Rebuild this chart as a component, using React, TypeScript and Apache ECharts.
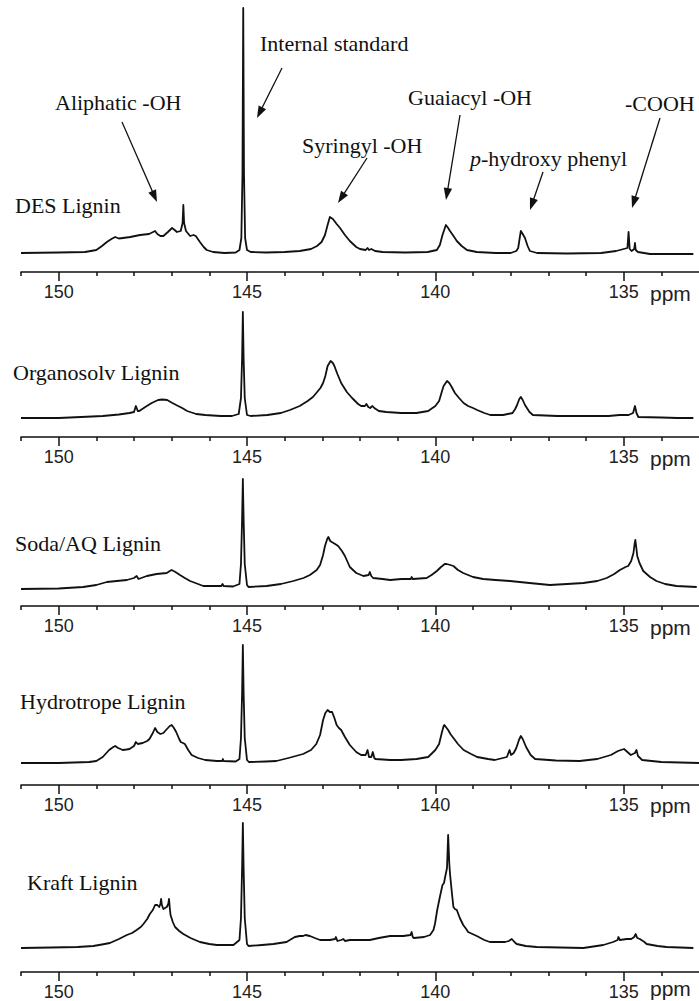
import React, { useEffect, useRef } from "react";
import * as echarts from "echarts";

// ---------- axis values ----------
const PPM_MIN = 133;
const PPM_MAX = 151;
const majorTicks = [150, 145, 140, 135];
const minorTicks = [151, 149, 148, 147, 146, 144, 143, 142, 141, 139, 138, 137, 136, 134];
const unitLabel = "ppm";

// ---------- sample names ----------
const sampleNames = ["DES Lignin", "Organosolv Lignin", "Soda/AQ Lignin", "Hydrotrope Lignin", "Kraft Lignin"];

// ---------- spectra: [ppm, relative intensity] ----------
const desSpectrum = [
  [151.0, 0], [150.0, 0.5], [149.3, 1], [149.0, 3], [148.85, 7], [148.72, 11], [148.6, 14], [148.5, 16], [148.4, 14.5],
  [148.29, 15], [148.1, 16], [147.84, 18], [147.6, 19], [147.44, 22], [147.38, 19], [147.3, 17], [147.22, 17], [147.1, 21],
  [146.99, 25], [146.92, 23], [146.86, 21], [146.76, 22], [146.71, 30], [146.69, 48], [146.67, 30], [146.62, 22], [146.51, 17],
  [146.42, 18], [146.36, 17], [146.25, 11], [146.15, 6], [146.07, 3], [145.9, 1], [145.6, 0], [145.3, 0.5], [145.2, 3],
  [145.15, 15], [145.12, 80], [145.1, 245], [145.08, 80], [145.05, 15], [145.0, 3], [144.9, 1], [144.5, 0.5], [144.0, 1],
  [143.6, 2], [143.3, 4], [143.14, 7], [143.02, 11], [142.93, 18], [142.86, 28], [142.8, 36], [142.72, 34], [142.62, 29],
  [142.53, 25], [142.4, 18], [142.27, 12], [142.1, 6], [142.0, 4], [141.85, 3], [141.8, 5], [141.76, 3], [141.7, 4],
  [141.6, 2], [141.4, 1], [140.8, 0.5], [140.2, 1], [139.96, 3], [139.88, 8], [139.81, 18], [139.72, 28], [139.66, 25],
  [139.61, 22], [139.5, 16], [139.43, 12], [139.3, 7], [139.16, 3], [138.9, 1], [138.4, 0], [138.0, 0], [137.85, 2],
  [137.8, 5], [137.76, 15], [137.73, 22], [137.68, 19], [137.62, 15], [137.55, 7], [137.49, 2], [137.3, 0], [136.5, -0.5],
  [135.6, 0], [135.2, 2], [135.0, 4], [134.9, 5], [134.87, 21], [134.84, 4], [134.79, 2], [134.72, 4], [134.7, 10],
  [134.68, 3], [134.62, 1], [134.3, -1], [133.6, -1], [133.15, -1],
];

const organosolvSpectrum = [
  [151.0, 0], [150.0, 0], [149.4, 1], [148.83, 2], [148.4, 3.5], [148.12, 5], [148.0, 6], [147.95, 12], [147.9, 7],
  [147.86, 7], [147.7, 11], [147.53, 15], [147.36, 18], [147.25, 18.5], [147.12, 18], [146.98, 15], [146.88, 13],
  [146.72, 10], [146.59, 7], [146.35, 4], [146.11, 3], [145.7, 2], [145.4, 2], [145.22, 4], [145.16, 20], [145.13, 60],
  [145.11, 106], [145.09, 60], [145.06, 20], [145.0, 3], [144.9, 2], [144.46, 3], [144.1, 5], [143.86, 8], [143.6, 12],
  [143.39, 17], [143.25, 21], [143.16, 25], [143.05, 30], [142.98, 35], [142.92, 42], [142.86, 52], [142.78, 57],
  [142.72, 55], [142.68, 52], [142.6, 44], [142.5, 35], [142.35, 26], [142.21, 20], [142.05, 14], [141.97, 12],
  [141.87, 12], [141.83, 14], [141.78, 11], [141.73, 10], [141.67, 12], [141.62, 10], [141.5, 7], [141.3, 6], [140.91, 5],
  [140.5, 5], [140.19, 7], [140.0, 12], [139.9, 17], [139.83, 26], [139.78, 32], [139.69, 37], [139.63, 35], [139.58, 32],
  [139.48, 25], [139.37, 20], [139.25, 15], [139.13, 12], [139.0, 10], [138.89, 8], [138.7, 5], [138.54, 3], [138.2, 3],
  [137.95, 5], [137.88, 9], [137.83, 13], [137.77, 19], [137.73, 21], [137.68, 18], [137.62, 13], [137.5, 6], [137.41, 3],
  [136.76, 2], [136.0, 2], [135.4, 2], [135.11, 3], [134.87, 3], [134.75, 5], [134.7, 12], [134.66, 5], [134.61, 1],
  [134.0, 0.5], [133.57, 0], [133.15, 0],
];

const sodaSpectrum = [
  [151.0, 0], [150.0, 0.5], [149.35, 2], [149.0, 4], [148.72, 7], [148.46, 8], [148.19, 9], [148.0, 11], [147.93, 13],
  [147.88, 10], [147.66, 13], [147.4, 15], [147.13, 16], [147.05, 18], [147.0, 19], [146.9, 17], [146.78, 14],
  [146.65, 11], [146.51, 8], [146.3, 5], [146.16, 3], [145.9, 3], [145.68, 3], [145.65, 5], [145.62, 3], [145.37, 2.5],
  [145.2, 5], [145.16, 25], [145.13, 70], [145.11, 110], [145.09, 70], [145.06, 25], [145.0, 4], [144.96, 2], [144.48, 3],
  [144.1, 5], [143.77, 8], [143.5, 11], [143.33, 14], [143.15, 19], [143.06, 24], [142.98, 34], [142.93, 43], [142.87, 50],
  [142.84, 52], [142.79, 48], [142.75, 47], [142.66, 45], [142.58, 43], [142.48, 38], [142.4, 33], [142.27, 22],
  [142.1, 16], [141.91, 13], [141.77, 14], [141.74, 17], [141.7, 13], [141.65, 11], [141.4, 10], [141.2, 9], [140.9, 10],
  [140.65, 10], [140.63, 12], [140.6, 10], [140.23, 11], [140.1, 14], [139.96, 18], [139.85, 22], [139.75, 25],
  [139.7, 25], [139.6, 24], [139.52, 23], [139.4, 19], [139.26, 16], [139.0, 12], [138.73, 10], [138.4, 9], [138.02, 8],
  [137.5, 6], [136.96, 4], [136.5, 5], [136.07, 6], [135.7, 8], [135.45, 11], [135.25, 15], [135.1, 19], [134.95, 22],
  [134.88, 23], [134.8, 28], [134.74, 36], [134.71, 45], [134.69, 49], [134.66, 40], [134.64, 33], [134.58, 26],
  [134.48, 18], [134.3, 12], [134.13, 8], [133.9, 5], [133.6, 3], [133.06, 2],
];

const hydrotropeSpectrum = [
  [151.0, 0], [150.0, 0], [149.19, 1], [149.0, 2], [148.83, 6], [148.66, 13], [148.55, 16], [148.5, 17], [148.42, 15],
  [148.3, 13], [148.2, 13.5], [148.12, 14], [148.0, 17], [147.95, 21], [147.9, 19], [147.77, 20], [147.65, 22],
  [147.59, 24], [147.5, 30], [147.44, 35], [147.38, 31], [147.3, 29], [147.22, 30], [147.15, 33], [147.05, 37],
  [147.0, 38], [146.94, 35], [146.88, 31], [146.8, 24], [146.76, 21], [146.7, 20], [146.65, 19], [146.56, 13],
  [146.47, 8], [146.3, 5], [146.11, 3], [145.8, 2], [145.66, 2], [145.64, 4], [145.62, 2], [145.3, 1.5], [145.2, 4],
  [145.16, 25], [145.13, 70], [145.11, 118], [145.09, 70], [145.06, 25], [145.0, 3], [144.95, 1], [144.5, 1.5],
  [144.22, 2], [143.9, 5], [143.51, 9], [143.3, 13], [143.16, 19], [143.06, 28], [142.98, 43], [142.92, 50], [142.86, 53],
  [142.8, 51], [142.74, 51], [142.68, 45], [142.62, 38], [142.56, 35], [142.5, 33], [142.4, 26], [142.27, 18],
  [142.1, 11], [141.97, 8], [141.85, 8], [141.8, 13], [141.76, 6], [141.7, 6], [141.66, 11], [141.62, 5], [141.59, 4],
  [141.2, 3], [140.91, 3], [140.5, 4], [140.19, 6], [140.0, 13], [139.9, 19], [139.83, 30], [139.78, 37], [139.76, 38],
  [139.7, 35], [139.66, 33], [139.6, 29], [139.54, 26], [139.4, 19], [139.25, 13], [139.05, 9], [138.89, 6], [138.6, 4],
  [138.42, 3], [138.1, 6], [138.03, 13], [137.99, 8], [137.92, 10], [137.85, 15], [137.78, 23], [137.73, 27],
  [137.68, 24], [137.59, 16], [137.47, 8], [137.35, 4], [136.8, 2.5], [136.17, 2], [135.7, 4], [135.34, 8], [135.15, 12],
  [134.99, 14], [134.9, 11], [134.81, 8], [134.7, 10], [134.66, 13], [134.62, 7], [134.51, 3], [134.0, 1], [133.0, 0],
];

const kraftSpectrum = [
  [151.0, 0], [150.2, 0.5], [149.5, 1], [149.08, 2], [148.85, 3.5], [148.64, 5], [148.4, 9], [148.19, 13], [148.05, 15],
  [147.93, 18], [147.82, 21], [147.75, 24], [147.65, 29], [147.58, 34], [147.5, 38], [147.44, 43], [147.38, 43],
  [147.33, 41], [147.3, 44], [147.28, 49], [147.26, 43], [147.22, 39], [147.13, 41], [147.09, 44], [147.07, 49],
  [147.05, 40], [147.03, 33], [146.97, 26], [146.91, 21], [146.8, 17], [146.69, 14], [146.5, 10], [146.25, 6], [146.0, 4],
  [145.8, 3], [145.36, 3], [145.2, 8], [145.16, 30], [145.13, 80], [145.11, 125], [145.09, 80], [145.06, 30], [145.0, 4],
  [144.96, 2], [144.6, 3], [144.3, 4], [143.95, 6], [143.82, 9], [143.73, 11], [143.6, 12], [143.51, 12], [143.45, 13],
  [143.33, 12], [143.2, 10], [143.06, 8], [142.8, 8], [142.66, 9], [142.64, 11], [142.6, 7], [142.5, 8], [142.44, 9],
  [142.4, 7], [142.27, 8], [142.0, 8], [141.74, 8], [141.5, 10], [141.2, 12], [140.85, 12], [140.66, 13], [140.63, 16],
  [140.6, 11], [140.57, 10], [140.3, 11], [140.14, 13], [140.05, 18], [140.01, 24], [139.95, 38], [139.88, 51],
  [139.81, 63], [139.77, 65], [139.74, 71], [139.69, 80], [139.66, 113], [139.63, 85], [139.61, 74], [139.56, 55],
  [139.52, 41], [139.48, 39], [139.43, 38], [139.35, 30], [139.26, 23], [139.18, 19], [139.13, 16], [138.9, 12],
  [138.7, 8], [138.55, 6], [138.15, 6], [138.05, 7], [137.97, 9], [137.9, 6], [137.84, 4], [137.6, 2], [137.31, 1],
  [136.07, 0], [135.54, 3], [135.28, 6], [135.16, 8], [135.14, 11], [135.1, 8], [134.92, 9], [134.8, 9], [134.72, 11],
  [134.68, 14], [134.64, 10], [134.57, 9], [134.45, 6], [134.39, 4], [134.1, 2], [133.86, 1], [133.15, 0],
];

const spectra = [desSpectrum, organosolvSpectrum, sodaSpectrum, hydrotropeSpectrum, kraftSpectrum];

// ---------- annotation texts ----------
const annotationTexts = ["Internal standard", "Aliphatic -OH", "Syringyl -OH", "Guaiacyl -OH", "{i|p}-hydroxy phenyl", "-COOH"];

// ---------- layout (pixels) ----------
const W = 699;
const H = 1001;
const PLOT_LEFT = 21;
const panelLayout = [
  { axisY: 272, baseY: 253, topY: 0, labelX: 15, labelY: 205, unitY: 293 },
  { axisY: 437, baseY: 418, topY: 300, labelX: 13, labelY: 372, unitY: 458 },
  { axisY: 606, baseY: 589, topY: 470, labelX: 15, labelY: 543, unitY: 627 },
  { axisY: 785, baseY: 763, topY: 635, labelX: 20, labelY: 701, unitY: 805 },
  { axisY: 972, baseY: 948, topY: 815, labelX: 27, labelY: 882, unitY: 988 },
];
const annotationLayout = [
  { tx: 260, ty: 43, x1: 282, y1: 68, x2: 257, y2: 118 },
  { tx: 55, ty: 102, x1: 122, y1: 122, x2: 157, y2: 202 },
  { tx: 302, ty: 145, x1: 367, y1: 158, x2: 338, y2: 203 },
  { tx: 408, ty: 97, x1: 460, y1: 115, x2: 446, y2: 200 },
  { tx: 470, ty: 158, x1: 543, y1: 172, x2: 530, y2: 210 },
  { tx: 625, ty: 103, x1: 660, y1: 118, x2: 632, y2: 208 },
];

const INK = "#111111";
const SERIF = "'Liberation Serif', 'Times New Roman', serif";
const SANS = "'Liberation Sans', Arial, sans-serif";

function arrow(x1: number, y1: number, x2: number, y2: number) {
  const dx = x2 - x1;
  const dy = y2 - y1;
  const len = Math.sqrt(dx * dx + dy * dy);
  const ux = dx / len;
  const uy = dy / len;
  const headL = 12;
  const headW = 4.2;
  const bx = x2 - ux * headL;
  const by = y2 - uy * headL;
  return {
    type: "group",
    children: [
      { type: "line", shape: { x1, y1, x2: bx + ux * 2, y2: by + uy * 2 }, style: { stroke: INK, lineWidth: 1.3 } },
      {
        type: "polygon",
        shape: {
          points: [
            [x2, y2],
            [bx - uy * headW, by + ux * headW],
            [bx + uy * headW, by - ux * headW],
          ],
        },
        style: { fill: INK },
      },
    ],
  };
}

export default function App() {
  const ref = useRef<HTMLDivElement>(null);

  useEffect(() => {
    if (!ref.current) return;
    const chart = echarts.init(ref.current, undefined, { renderer: "svg", width: W, height: H });

    const grids: any[] = [];
    const xAxes: any[] = [];
    const yAxes: any[] = [];
    const series: any[] = [];
    const graphics: any[] = [];

    panelLayout.forEach((p, i) => {
      grids.push({
        left: PLOT_LEFT,
        right: 0,
        top: p.topY,
        height: p.axisY - p.topY,
        containLabel: false,
        outerBoundsMode: "none",
      });
      xAxes.push({
        type: "value",
        gridIndex: i,
        position: "bottom",
        min: PPM_MIN,
        max: PPM_MAX,
        inverse: true,
        axisLine: { show: true, onZero: false, lineStyle: { color: INK, width: 1.5 } },
        axisTick: { show: true, length: 9, customValues: majorTicks, lineStyle: { color: INK, width: 1.5 } },
        axisLabel: {
          show: true,
          customValues: majorTicks,
          margin: 11,
          fontSize: 18,
          fontFamily: SANS,
          color: "#222",
        },
        splitLine: { show: false },
      });
      xAxes.push({
        type: "value",
        gridIndex: i,
        position: "bottom",
        min: PPM_MIN,
        max: PPM_MAX,
        inverse: true,
        axisLine: { show: false, onZero: false },
        axisTick: { show: true, length: 4, customValues: minorTicks, lineStyle: { color: INK, width: 1.5 } },
        axisLabel: { show: false },
        splitLine: { show: false },
      });
      yAxes.push({
        type: "value",
        gridIndex: i,
        min: -(p.axisY - p.baseY),
        max: p.baseY - p.topY,
        show: false,
      });
      series.push({
        type: "line",
        name: sampleNames[i],
        xAxisIndex: i * 2,
        yAxisIndex: i,
        data: spectra[i],
        showSymbol: false,
        symbol: "none",
        clip: false,
        lineStyle: { color: INK, width: 1.8, join: "round" },
        silent: true,
      });
      graphics.push({
        type: "text",
        x: p.labelX,
        y: p.labelY,
        style: { text: sampleNames[i], font: `22px ${SERIF}`, fill: INK, verticalAlign: "middle" },
      });
      graphics.push({
        type: "text",
        x: 650,
        y: p.unitY,
        style: { text: unitLabel, font: `21px ${SANS}`, fill: "#222", verticalAlign: "middle" },
      });
    });

    annotationLayout.forEach((a, i) => {
      graphics.push({
        type: "text",
        x: a.tx,
        y: a.ty,
        style: {
          text: annotationTexts[i],
          font: `22px ${SERIF}`,
          fill: INK,
          verticalAlign: "middle",
          rich: { i: { fontStyle: "italic", fontSize: 22, fontFamily: SERIF, fill: INK } },
        },
      });
      graphics.push(arrow(a.x1, a.y1, a.x2, a.y2));
    });

    chart.setOption({
      animation: false,
      backgroundColor: "#ffffff",
      grid: grids,
      xAxis: xAxes,
      yAxis: yAxes,
      series,
      graphic: graphics,
    });

    return () => chart.dispose();
  }, []);

  return (
    <div
      ref={ref}
      style={{ position: "fixed", left: 0, top: 0, width: W, height: H, background: "#fff" }}
    />
  );
}
